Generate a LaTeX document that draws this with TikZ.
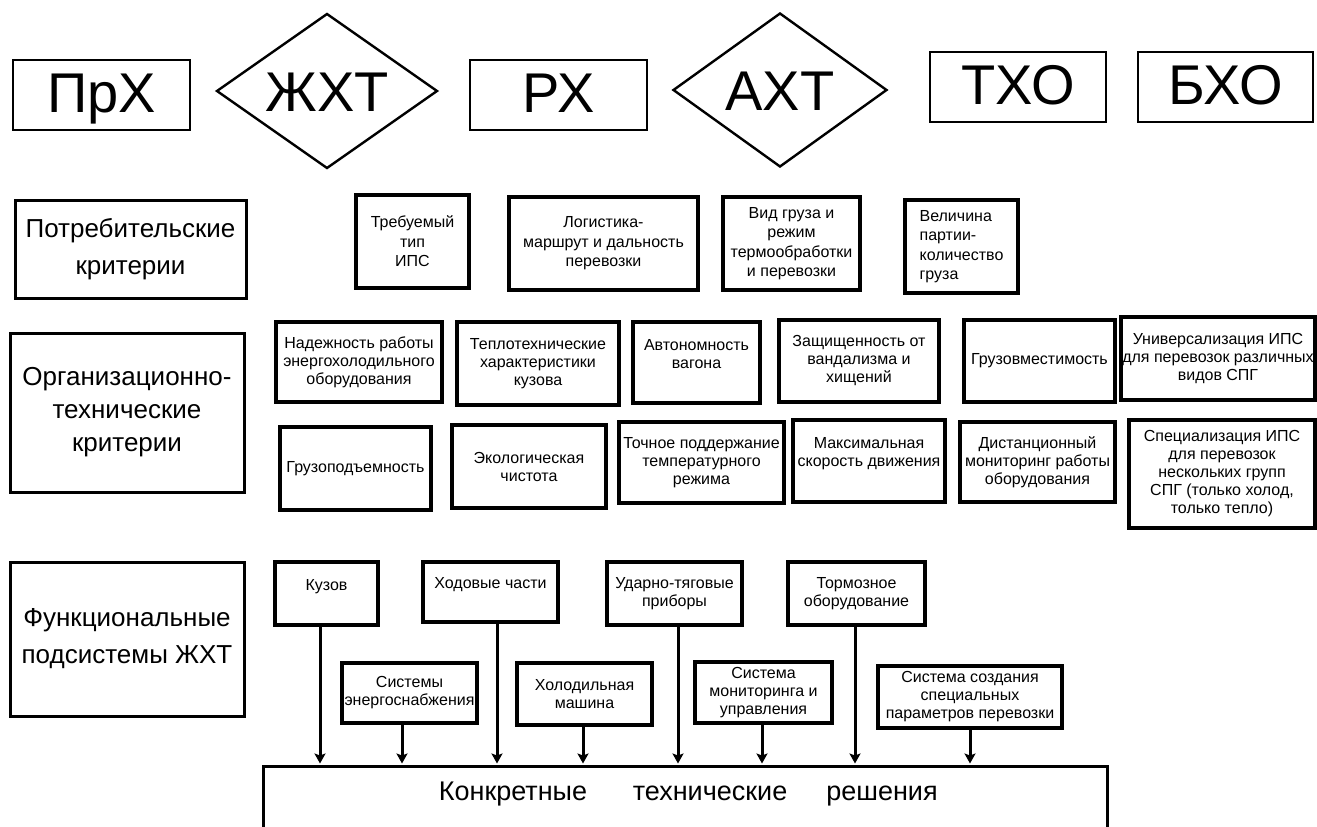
\documentclass[tikz,border=0pt]{standalone}
\usepackage{fontspec}
\setmainfont{Liberation Sans}
\usetikzlibrary{shapes.geometric,arrows.meta}

% box given by its corners: name, style, x1, y1, x2, y2, text
\newcommand\crbox[7]{%
  \node[#2, minimum width={#5pt-#3pt}, minimum height={#6pt-#4pt}]
    (#1) at ({(#3+#5)/2},{(#4+#6)/2}) {#7};}

\begin{document}
\begin{tikzpicture}[x=1pt,y=-1pt,
  big/.style={draw, line width=2.6pt, inner sep=0pt,
    text height=40pt, text depth=6pt,
    font=\fontsize{56}{60}\selectfont},
  bigdia/.style={draw, diamond, line width=2.4pt, inner sep=0pt, aspect=1.43,
    text height=40pt, text depth=0pt,
    font=\fontsize{56}{60}\selectfont},
  head/.style={draw, line width=3pt, inner sep=2pt, align=center,
    font=\fontsize{26}{37}\selectfont},
  cbox/.style={draw, line width=3.2pt, inner xsep=0.5pt, inner ysep=1pt,
    align=center, font=\fontsize{16}{18}\selectfont},
  cboxw/.style={cbox, font=\fontsize{16}{19.5}\selectfont},
  restext/.style={text height=19.5pt, text depth=0pt, inner sep=0pt,
    font=\fontsize{27}{30}\selectfont},
  arr/.style={line width=3pt, shorten >=1.5pt,
    -{Stealth[length=10pt,width=11pt,inset=2pt]}},
]
\useasboundingbox (0,0) rectangle (1317,827);

% --- top row: groups of cargo
\crbox{prx}{big}{13}{60}{190}{130}{ПрХ}
\node[bigdia, minimum width=221pt, minimum height=155pt] (zht) at (327,91) {ЖХТ};
\crbox{rx}{big}{470}{60}{647}{130}{РХ}
\node[bigdia, minimum width=214pt, minimum height=154pt] (aht) at (780,90) {АХТ};
\crbox{txo}{big}{930}{52}{1106}{122}{ТХО}
\crbox{bxo}{big}{1138}{52}{1313}{122}{БХО}

% --- consumer criteria
\crbox{potr}{head}{15}{200}{246}{298}{Потребительские\\критерии}
\crbox{tip}{cboxw}{356}{195}{469}{288}{Требуемый\\тип\\ИПС}
\crbox{logi}{cboxw}{509}{197}{698}{290}{Логистика-\\маршрут и дальность\\перевозки}
\crbox{vid}{cboxw}{723}{197}{860}{290}{Вид груза и\\режим\\термообработки\\и перевозки}
\crbox{vel}{cboxw, align=left}{905}{200}{1018}{293}{Величина\\партии-\\количество\\груза}

% --- organisational and technical criteria
\crbox{org}{head, font=\fontsize{26}{33}\selectfont}{10}{333}{244}{492}{Организационно-\\технические\\критерии}
\crbox{nad}{cbox}{276}{322}{442}{402}{Надежность работы\\энергохолодильного\\оборудования}
\crbox{tepl}{cbox}{457}{322}{619}{405}{Теплотехнические\\характеристики\\кузова}
\crbox{avt}{cbox}{633}{322}{760}{403}{Автономность\\вагона\\~}
\crbox{zasch}{cbox}{779}{320}{939}{402}{Защищенность от\\вандализма и\\хищений}
\crbox{gruzv}{cbox}{964}{320}{1115}{402}{Грузовместимость}
\crbox{univ}{cbox}{1121}{317}{1315}{400}{Универсализация ИПС\\для перевозок различных\\видов СПГ}
\crbox{gruzp}{cbox}{280}{427}{431}{510}{Грузоподъемность}
\crbox{ekol}{cbox}{452}{425}{606}{508}{Экологическая\\чистота}
\crbox{toch}{cbox}{619}{422}{784}{503}{Точное поддержание\\температурного\\режима}
\crbox{maks}{cbox}{793}{420}{945}{502}{Максимальная\\скорость движения\\~}
\crbox{dist}{cbox}{960}{422}{1115}{502}{Дистанционный\\мониторинг работы\\оборудования}
\crbox{spec}{cbox}{1129}{420}{1315}{528}{Специализация ИПС\\для перевозок\\нескольких групп\\СПГ (только холод,\\только тепло)}

% --- functional subsystems
\crbox{func}{head}{10}{562}{244}{716}{Функциональные\\подсистемы ЖХТ}
\crbox{kuz}{cbox}{275}{562}{378}{625}{Кузов\\~}
\crbox{hod}{cbox}{423}{562}{558}{622}{Ходовые части\\~}
\crbox{udar}{cbox}{607}{562}{742}{625}{Ударно-тяговые\\приборы}
\crbox{torm}{cbox}{788}{562}{925}{625}{Тормозное\\оборудование}
\crbox{energ}{cbox}{342}{663}{477}{723}{Системы\\энергоснабжения}
\crbox{holod}{cbox}{517}{663}{652}{725}{Холодильная\\машина}
\crbox{monit}{cbox}{695}{662}{832}{723}{Система\\мониторинга и\\управления}
\crbox{sozd}{cbox}{878}{666}{1062}{728}{Система создания\\специальных\\параметров перевозки}

% --- resulting technical solutions
\node[draw, line width=3pt, inner sep=0pt, minimum width=844pt,
  minimum height=150pt, anchor=north] (res) at (685,765) {};
\node[restext] (w1) at (513,791) {Конкретные};
\node[restext] (w2) at (710,791) {технические};
\node[restext] (w3) at (882,791) {решения};

\foreach \n/\dx in {kuz/-6.5, energ/-7.5, hod/6.5, holod/-1.5,
                    udar/3.5, monit/-1.5, torm/-1.5, sozd/0}
  \draw[arr] ([xshift=\dx pt]\n.south) -- ([xshift=\dx pt]\n.south |- res.north);
\end{tikzpicture}
\end{document}
